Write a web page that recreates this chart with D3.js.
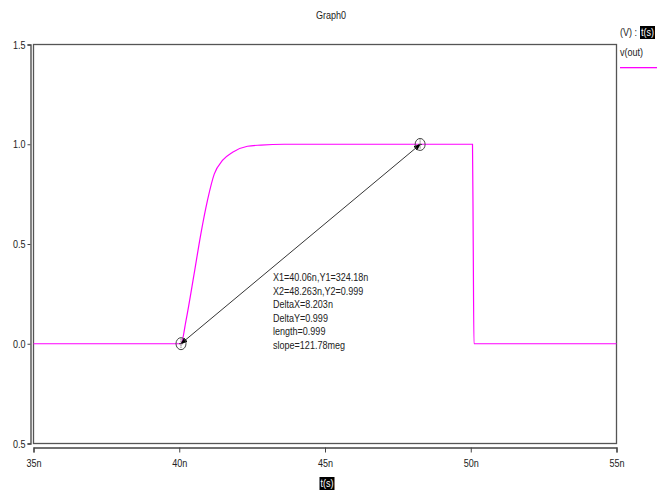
<!DOCTYPE html>
<html>
<head>
<meta charset="utf-8">
<script src="https://cdn.jsdelivr.net/npm/d3@7"></script>
<style>
  html, body { margin: 0; padding: 0; background: #fff; }
  svg { display: block; }
  text { font-family: "Liberation Sans", Arial, sans-serif; fill: #222; }
</style>
</head>
<body>
<svg id="chart" width="663" height="491"></svg>
<script>
// v(out) transient, time in ns
const timeNs = [35, 40.0, 40.06, 40.23, 40.51, 40.74, 40.97, 41.2, 41.49, 41.83, 42.34, 42.8, 43.6, 50.06, 50.085, 50.11, 55];
const vOut   = [0, 0, 0.0003, 0.115, 0.35, 0.55, 0.72, 0.85, 0.92, 0.96, 0.99, 0.996, 1.0, 1.0, 0.5, 0, 0];

const xTicks = [35, 40, 45, 50, 55];
const xTickLabels = ['35n', '40n', '45n', '50n', '55n'];
const yTicks = [1.5, 1.0, 0.5, 0.0, -0.5];
const yTickLabels = ['1.5', '1.0', '0.5', '0.0', '0.5'];

// cursor pair
const cursorX = [40.06, 48.263];
const cursorY = [0.000324, 0.999];
const cursorText = [
  'X1=40.06n,Y1=324.18n',
  'X2=48.263n,Y2=0.999',
  'DeltaX=8.203n',
  'DeltaY=0.999',
  'length=0.999',
  'slope=121.78meg'
];

const svg = d3.select('#chart');
const margin = { left: 33.5, right: 616.5, top: 44.5, bottom: 443.5 };

const x = d3.scaleLinear().domain([35, 55]).range([margin.left, margin.right]);
const y = d3.scaleLinear().domain([-0.5, 1.5]).range([margin.bottom, margin.top]);

// the original uses a condensed face; squeeze glyphs to match
function narrow(node) {
  const len = node.getComputedTextLength();
  node.setAttribute('textLength', (len * 0.82).toFixed(1));
  node.setAttribute('lengthAdjust', 'spacingAndGlyphs');
}

// title
svg.append('text')
  .attr('x', 331).attr('y', 19)
  .attr('text-anchor', 'middle')
  .attr('font-size', '11px')
  .attr('class', 'sq')
  .text('Graph0');

// frame
svg.append('rect')
  .attr('x', margin.left).attr('y', margin.top)
  .attr('width', margin.right - margin.left)
  .attr('height', margin.bottom - margin.top)
  .attr('fill', 'none')
  .attr('stroke', '#555')
  .attr('stroke-width', 1.3);

// y axis (offset a bit to the left of the frame)
const yAxis = d3.axisLeft(y)
  .tickValues(yTicks)
  .tickFormat((d, i) => yTickLabels[i])
  .tickSize(3)
  .tickPadding(2);

const gy = svg.append('g')
  .attr('transform', 'translate(30.5,0)')
  .call(yAxis);
gy.select('.domain').attr('stroke', '#444').attr('stroke-width', 1.3);
gy.selectAll('.tick line').attr('stroke', '#444');
gy.selectAll('.tick text')
  .attr('font-size', '11px')
  .attr('font-family', '"Liberation Sans", Arial, sans-serif')
  .attr('fill', '#222');

// x axis (offset below frame, ticks pointing down)
const xAxis = d3.axisBottom(x)
  .tickValues(xTicks)
  .tickFormat((d, i) => xTickLabels[i])
  .tickSizeInner(5)
  .tickSizeOuter(5)
  .tickPadding(7);

const gx = svg.append('g')
  .attr('transform', 'translate(0,447.5)')
  .call(xAxis);
gx.select('.domain').attr('stroke', '#444').attr('stroke-width', 1.3);
gx.selectAll('.tick line').attr('stroke', '#444');
gx.selectAll('.tick text')
  .attr('font-size', '11px')
  .attr('font-family', '"Liberation Sans", Arial, sans-serif')
  .attr('fill', '#222');

// label in a black box
function boxedLabel(cx, cy, label, anchor) {
  const g = svg.append('g');
  const t = g.append('text')
    .attr('x', cx).attr('y', cy)
    .attr('text-anchor', anchor || 'middle')
    .attr('font-size', '11px')
    .style('fill', '#fff')
    .text(label);
  narrow(t.node());
  const bb = t.node().getBBox();
  g.insert('rect', 'text')
    .attr('x', bb.x - 1).attr('y', bb.y)
    .attr('width', bb.width + 2).attr('height', bb.height + 1)
    .attr('fill', '#000');
}

boxedLabel(327, 487, 't(s)');

// top-right units and legend
svg.append('text')
  .attr('x', 620).attr('y', 36)
  .attr('font-size', '11px')
  .attr('class', 'sq')
  .text('(V) : ');
boxedLabel(641, 36, 't(s)', 'start');

svg.append('text')
  .attr('x', 620).attr('y', 56)
  .attr('font-size', '11px')
  .attr('class', 'sq')
  .text('v(out)');

svg.append('rect')
  .attr('x', 620).attr('y', 67)
  .attr('width', 37).attr('height', 1.3)
  .attr('fill', '#ff00ff');

// waveform
const line = d3.line()
  .x((d, i) => x(timeNs[i]))
  .y(d => y(d))
  .curve(d3.curveMonotoneX);

svg.append('path')
  .datum(vOut)
  .attr('fill', 'none')
  .attr('stroke', '#ff00ff')
  .attr('stroke-width', 1.2)
  .attr('d', line);

// arrow markers
const defs = svg.append('defs');
defs.append('marker')
  .attr('id', 'arrow')
  .attr('viewBox', '0 0 10 10')
  .attr('refX', 9).attr('refY', 5)
  .attr('markerWidth', 7).attr('markerHeight', 7)
  .attr('markerUnits', 'userSpaceOnUse')
  .attr('orient', 'auto-start-reverse')
  .append('path')
  .attr('d', 'M0,1 L10,5 L0,9 z')
  .attr('fill', '#000');

svg.append('line')
  .attr('x1', x(cursorX[0])).attr('y1', y(cursorY[0]))
  .attr('x2', x(cursorX[1])).attr('y2', y(cursorY[1]))
  .attr('stroke', '#000')
  .attr('stroke-width', 0.8)
  .attr('marker-start', 'url(#arrow)')
  .attr('marker-end', 'url(#arrow)');

// cursor circles
cursorX.forEach((cx, i) => {
  const px = x(cx), py = y(cursorY[i]);
  svg.append('ellipse')
    .attr('cx', px).attr('cy', py)
    .attr('rx', 5).attr('ry', 6)
    .attr('fill', 'none')
    .attr('stroke', '#444')
    .attr('stroke-width', 1);
  svg.append('line')
    .attr('x1', px).attr('x2', px)
    .attr('y1', py - 5).attr('y2', py + 5)
    .attr('stroke', '#444')
    .attr('stroke-dasharray', '1,1');
  svg.append('line')
    .attr('x1', px - 2).attr('x2', px + 2)
    .attr('y1', py).attr('y2', py)
    .attr('stroke', '#444');
});

// cursor readout
svg.append('g').selectAll('text')
  .data(cursorText)
  .enter()
  .append('text')
  .attr('x', 273)
  .attr('y', (d, i) => 281 + i * 13.6)
  .attr('font-size', '11px')
  .attr('class', 'sq')
  .text(d => d);

// condense the rest of the labels
svg.selectAll('.sq').each(function () { narrow(this); });
gx.selectAll('.tick text').each(function () { narrow(this); });
gy.selectAll('.tick text').each(function () { narrow(this); });
</script>
</body>
</html>
